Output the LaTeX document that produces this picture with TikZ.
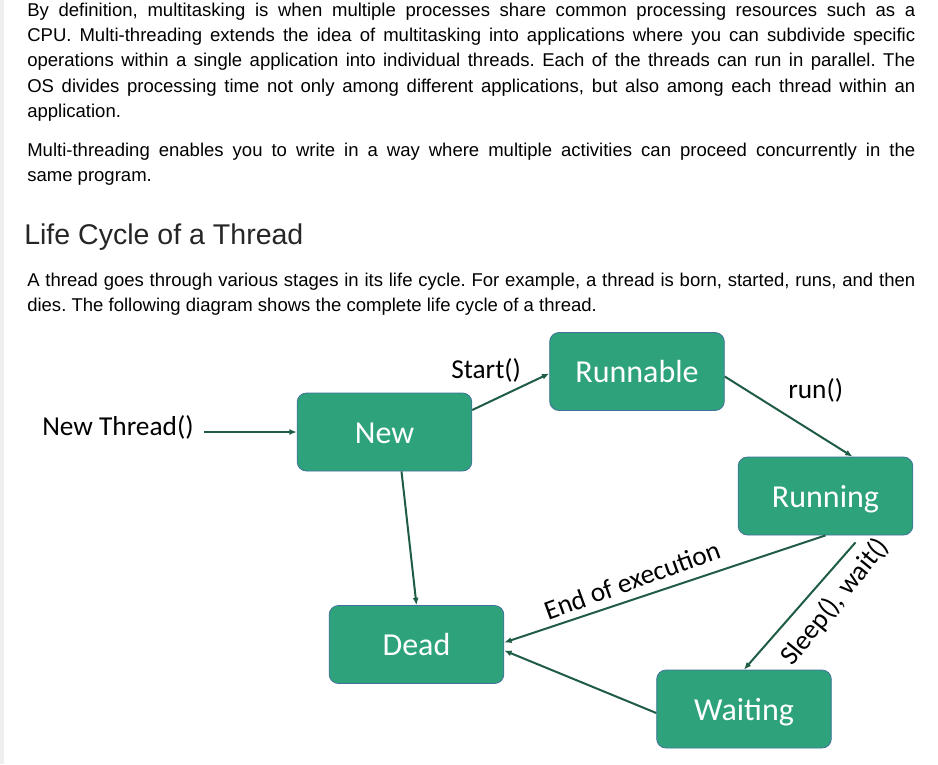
\documentclass[tikz,border=0pt]{standalone}
\usepackage{fontspec}
\setmainfont{Liberation Sans}
\newfontfamily\diagfont{Carlito}
\usetikzlibrary{arrows.meta, calc}
\definecolor{stategreen}{HTML}{2EA37B}
\definecolor{stateedge}{HTML}{41719C}
\definecolor{flowgreen}{HTML}{1E5C44}
\definecolor{sidebar}{HTML}{EEEEEE}
\frenchspacing

\begin{document}
\begin{tikzpicture}[
  x=0.75pt, y=-0.75pt,
  para/.style={anchor=base west, inner sep=0pt, text width=666pt, align=justify,
               font=\fontsize{13.9}{19.1}\selectfont},
  heading/.style={anchor=base west, inner sep=0pt, text=black!85,
                  font=\fontsize{21.4}{25}\selectfont},
  state/.style={draw=stateedge, line width=0.6pt, fill=stategreen, rounded corners=7pt,
                minimum width=131pt, minimum height=58.5pt, text=white,
                text height=19pt, text depth=2.5pt,
                font=\diagfont\fontsize{24}{28}\selectfont},
  lbl/.style={inner sep=0pt, font=\diagfont\fontsize{20.5}{24}\selectfont},
  flow/.style={draw=flowgreen, line width=1.5pt, -{Latex[length=5.5pt, width=4.5pt]}},
]

\useasboundingbox (0,0) rectangle (938,764);
\fill[white] (0,0) rectangle (938,764);
\fill[sidebar] (0,0) rectangle (4,764);

% text above the diagram
\node[para] (intro) at (27,16) {By definition, multitasking is when multiple processes share common processing resources such as a\linebreak
CPU. Multi-threading extends the idea of multitasking into applications where you can subdivide specific\linebreak
operations within a single application into individual threads. Each of the threads can run in parallel. The\linebreak
OS divides processing time not only among different applications, but also among each thread within an\linebreak
application.};
\node[para] (usage) at (27,156) {Multi-threading enables you to write in a way where multiple activities can proceed concurrently in the\linebreak
same program.};
\node[heading] (title) at (24,244) {Life Cycle of a Thread};
\node[para] (stages) at (27,286) {A thread goes through various stages in its life cycle. For example, a thread is born, started, runs, and then\linebreak
dies. The following diagram shows the complete life cycle of a thread.};

% states
\node[state] (new) at (384.5,432) {New};
\node[state] (runnable) at (637,371.5) {Runnable};
\node[state] (running) at (825.5,496) {Running};
\node[state] (dead) at (416.5,644.5) {Dead};
\node[state] (waiting) at (744,709) {Waiting};

% labels
\node[lbl, anchor=base west] (create) at (42,435) {New Thread()};
\node[lbl, anchor=base west] (startlbl) at (451,378) {Start()};
\node[lbl, anchor=base west] (runlbl) at (788,398) {run()};
\node[lbl, rotate=20] (endlbl) at (632,580) {End of execution};
\node[lbl, rotate=51] (sleeplbl) at (835,602) {Sleep(), wait()};

% transitions
\draw[flow] ([xshift=7.5pt]create.east |- new.west) -- (new.west);
\draw[flow] ($(new.east)+(0,-22)$) -- ($(runnable.west)+(0,2)$);
\draw[flow] ($(runnable.east)+(0,5)$) -- ($(running.north)+(27,0)$);
\draw[flow] ($(new.south)+(17,0)$) -- (dead.north);
\draw[flow] (running.south) -- ($(dead.east)+(0,-2)$);
\draw[flow] ($(running.south)+(30,7)$) -- (waiting.north);
\draw[flow] ($(waiting.west)+(0,4)$) -- ($(dead.east)+(0,6)$);

\end{tikzpicture}
\end{document}
